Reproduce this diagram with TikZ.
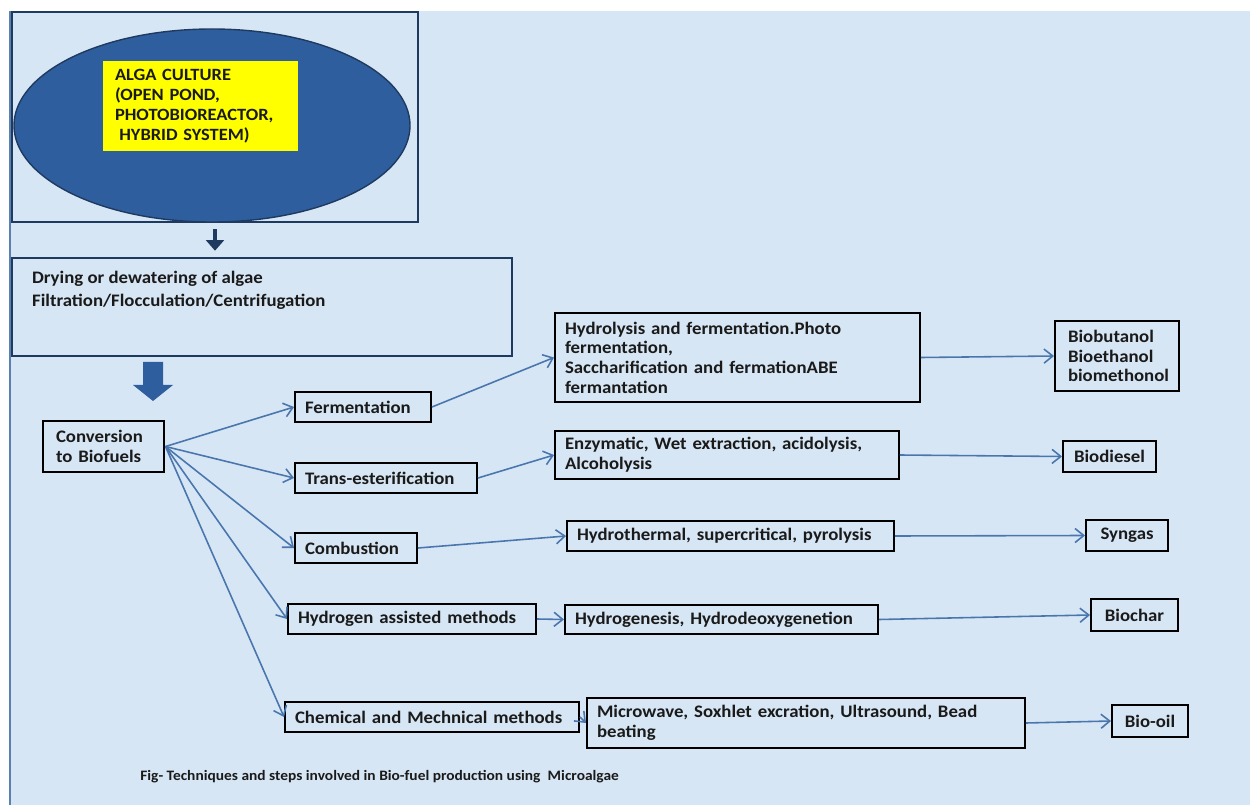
\documentclass[tikz,border=0pt]{standalone}
\usepackage{fontspec}
\setmainfont{Carlito}[FakeStretch=1.07]
\usepackage{xcolor}
\usepackage{tikz}
\usetikzlibrary{arrows.meta,shapes.geometric}
\definecolor{MABack}{HTML}{D7E6F4}
\definecolor{MAEdge}{HTML}{5B80B2}
\definecolor{MANavy}{HTML}{1F3A60}
\definecolor{MABlue}{HTML}{2F5E9F}
\definecolor{MAYellow}{HTML}{FFFF00}
\definecolor{MALink}{HTML}{4A76AE}
\definecolor{MAInk}{HTML}{1A1A1A}

\begin{document}
\begin{tikzpicture}[x=1cm,y=1cm,
  box/.style={draw=black,line width=1.1pt,align=left,inner xsep=0.2cm,inner ysep=0pt,
    text=MAInk,font=\bfseries\fontsize{10}{11.2}\selectfont},
  fuel/.style={box,align=center},
  link/.style={draw=MALink,line width=0.9pt,-{Straight Barb[length=5pt,width=8pt]}}]
\path[use as bounding box] (0,0) rectangle (25,16.10);
% background sheet
\fill[MABack] (0.20,0) rectangle (25,15.88);
\draw[MAEdge,line width=1pt] (0.20,0) -- (0.20,15.88);

% culture block
\node[draw=MANavy,line width=1.4pt,minimum width=8.12cm,minimum height=4.20cm,inner sep=0] (cultbox) at (4.30,13.76) {};
\node[ellipse,fill=MABlue,draw=MANavy,line width=0.8pt,minimum width=7.92cm,minimum height=3.86cm,inner sep=0] (pond) at (4.24,13.59) {};
\node[fill=MAYellow,align=left,text width=3.42cm,minimum height=1.80cm,inner xsep=0.24cm,inner ysep=0pt,
  text=MAInk,font=\bfseries\fontsize{9.8}{11.3}\selectfont] (culture) at (4.01,13.98)
  {ALGA CULTURE\\(OPEN POND,\\PHOTOBIOREACTOR,\\\hspace{0.25em}HYBRID SYSTEM)};

% drying step
\node[draw=MANavy,line width=1.4pt,minimum width=10.00cm,minimum height=1.96cm,inner sep=0] (drying) at (5.24,9.96) {};
\node[anchor=north west,align=left,inner sep=0,text=MAInk,font=\bfseries\fontsize{10}{13}\selectfont]
  (dryingtxt) at ([xshift=0.42cm,yshift=-0.28cm]drying.north west)
  {Drying or dewatering of algae\\Filtration/Flocculation/Centrifugation};
\draw[MANavy,line width=2.2pt,-{Triangle[length=6pt,width=10pt]}]
  ([yshift=-0.12cm]cultbox.south) -- ([yshift=0.12cm]cultbox.south |- drying.north);
\coordinate (bigtip) at (3.06,8.08);
\fill[MABlue] (bigtip) -- ++(0.40,0.32) -- ++(-0.20,0) -- ++(0,0.46) -- ++(-0.40,0)
  -- ++(0,-0.46) -- ++(-0.20,0) -- cycle;

% conversion and routes
\node[box,line width=1.7pt,inner xsep=0.26cm,text width=1.90cm,minimum height=1.02cm] (conv) at (2.07,7.17) {Conversion\\to Biofuels};
\node[box,text width=2.32cm,minimum height=0.60cm] (ferm) at (7.26,7.96) {Fermentation};
\node[box,text width=3.24cm,minimum height=0.60cm] (trans) at (7.72,6.54) {Trans-esterification};
\node[box,text width=2.04cm,minimum height=0.60cm] (comb) at (7.12,5.14) {Combustion};
\node[box,text width=4.56cm,minimum height=0.60cm] (hydro) at (8.24,3.72) {Hydrogen assisted methods};
\node[box,text width=5.48cm,minimum height=0.60cm] (chem) at (8.64,1.76) {Chemical and Mechnical methods};

% techniques
\node[box,text width=6.90cm,minimum height=1.78cm] (hydrolysis) at (14.75,8.95)
  {Hydrolysis and fermentation.Photo\\fermentation,\\Saccharification and fermationABE\\fermantation};
\node[box,text width=6.48cm,minimum height=0.96cm] (enzym) at (14.54,7.00)
  {Enzymatic, Wet extraction, acidolysis,\\Alcoholysis};
\node[box,text width=6.14cm,minimum height=0.60cm] (thermal) at (14.61,5.38) {Hydrothermal, supercritical, pyrolysis};
\node[box,text width=5.86cm,minimum height=0.58cm] (hydrogenesis) at (14.43,3.71) {Hydrogenesis, Hydrodeoxygenetion};
\node[box,text width=8.36cm,minimum height=1.00cm] (microwave) at (16.12,1.64)
  {Microwave, Soxhlet excration, Ultrasound, Bead\\beating};

% products
\node[box,inner xsep=0.26cm,text width=1.96cm,minimum height=1.40cm] (alcohols) at (22.34,8.98) {Biobutanol\\Bioethanol\\biomethonol};
\node[fuel,text width=1.46cm,minimum height=0.62cm] (diesel) at (22.19,6.97) {Biodiesel};
\node[fuel,text width=1.24cm,minimum height=0.62cm] (syngas) at (22.54,5.39) {Syngas};
\node[fuel,text width=1.34cm,minimum height=0.64cm] (biochar) at (22.69,3.80) {Biochar};
\node[fuel,text width=1.12cm,minimum height=0.64cm] (biooil) at (23.00,1.68) {Bio-oil};

\foreach \m in {ferm,trans,comb,hydro,chem}
  \draw[link] (conv.east) -- (\m.west);
\draw[link] (ferm.east) -- (hydrolysis.west);
\draw[link] (trans.east) -- (enzym.west);
\draw[link] (comb.east) -- (thermal.west);
\draw[link] (hydro.east) -- (hydrogenesis.west);
\draw[link] (chem.east) -- (microwave.west);
\draw[link] (hydrolysis.east) -- (alcohols.west);
\draw[link] (enzym.east) -- (diesel.west);
\draw[link] (thermal.east) -- (syngas.west);
\draw[link] (hydrogenesis.east) -- (biochar.west);
\draw[link] (microwave.east) -- (biooil.west);

\node[anchor=west,inner sep=0,text=MAInk,font=\bfseries\fontsize{8.2}{9}\selectfont] (caption) at (2.80,0.56)
  {Fig- Techniques and steps involved in Bio-fuel production using\hspace{0.5em}Microalgae};
\end{tikzpicture}
\end{document}
